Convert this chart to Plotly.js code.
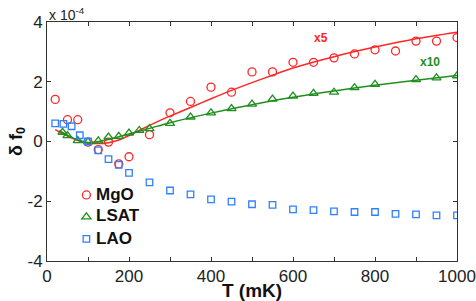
<!DOCTYPE html>
<html>
<head>
<meta charset="utf-8">
<script src="https://cdn.plot.ly/plotly-3.0.1.min.js"></script>
<style>html,body{margin:0;padding:0;background:#fff}#chart{width:476px;height:301px}</style>
</head>
<body>
<div id="chart"></div>
<script>
// Values in units of 1e-4
const mgoT = [20, 50, 75, 100, 125, 150, 175, 200, 250, 300, 350, 400, 450, 500, 550, 600, 650, 700, 750, 800, 850, 900, 950, 1000];
const mgoV = [1.41, 0.73, 0.73, -0.02, -0.27, -0.02, -0.75, -0.51, 0.23, 0.96, 1.34, 1.82, 1.65, 2.33, 2.33, 2.65, 2.65, 2.80, 2.93, 3.07, 3.03, 3.36, 3.36, 3.48];

const lsatT = [38, 50, 75, 100, 125, 150, 175, 200, 225, 250, 300, 350, 400, 450, 500, 550, 600, 650, 700, 750, 800, 900, 950, 1000];
const lsatV = [0.31, 0.20, 0.03, -0.01, 0.02, 0.15, 0.17, 0.28, 0.37, 0.43, 0.61, 0.82, 0.96, 1.10, 1.25, 1.42, 1.52, 1.61, 1.65, 1.80, 1.91, 2.07, 2.13, 2.20];

const laoT = [20, 40, 60, 80, 100, 125, 150, 175, 200, 250, 300, 350, 400, 450, 500, 550, 600, 650, 700, 750, 800, 850, 900, 950, 1000];
const laoV = [0.61, 0.59, 0.51, 0.21, 0.00, -0.30, -0.59, -0.78, -1.05, -1.37, -1.64, -1.77, -1.94, -2.01, -2.10, -2.12, -2.27, -2.30, -2.34, -2.36, -2.36, -2.42, -2.44, -2.47, -2.47];

// fitted curves
const mgoFitT = [20, 50, 75, 100, 125, 150, 175, 200, 225, 250, 275, 300, 350, 400, 450, 500, 550, 600, 700, 800, 900, 1000];
const mgoFitV = [0.40, 0.18, 0.03, -0.05, -0.07, -0.04, 0.05, 0.20, 0.37, 0.54, 0.70, 0.85, 1.14, 1.43, 1.71, 1.97, 2.22, 2.46, 2.84, 3.16, 3.44, 3.66];

const lsatFitT = [30, 50, 75, 100, 125, 150, 200, 250, 300, 400, 500, 600, 700, 800, 900, 1000];
const lsatFitV = [0.36, 0.21, 0.05, -0.03, 0.00, 0.07, 0.25, 0.44, 0.63, 0.95, 1.23, 1.48, 1.69, 1.88, 2.05, 2.21];

const names = ['MgO', 'LSAT', 'LAO'];
const colors = ['#ff2626', '#1f8f1f', '#2f80ff'];

const xTickVals = [0, 200, 400, 600, 800, 1000];
const xTickText = ['0', '200', '400', '600', '800', '1000'];
const yTickVals = [-4, -2, 0, 2, 4];
const yTickText = ['-4', '-2', '0', '2', '4'];

const traces = [
  {x: mgoFitT, y: mgoFitV, mode: 'lines', line: {color: colors[0], width: 1.5, shape: 'spline', smoothing: 0.8}, showlegend: false, hoverinfo: 'skip'},
  {x: lsatFitT, y: lsatFitV, mode: 'lines', line: {color: colors[1], width: 1.5, shape: 'spline', smoothing: 0.8}, showlegend: false, hoverinfo: 'skip'},
  {x: mgoT, y: mgoV, name: ' ', mode: 'markers', marker: {symbol: 'circle-open', size: 8, color: colors[0], line: {width: 1.3, color: colors[0]}}},
  {x: lsatT, y: lsatV, name: ' ', mode: 'markers', marker: {symbol: 'triangle-up-open', size: 8, color: colors[1], line: {width: 1.3, color: colors[1]}}},
  {x: laoT, y: laoV, name: ' ', mode: 'markers', marker: {symbol: 'square-open', size: 6.5, color: colors[2], line: {width: 1.3, color: colors[2]}}}
];

const axisCommon = {
  showgrid: false, zeroline: false, showline: true, mirror: 'ticks',
  linecolor: '#333', linewidth: 1, ticks: 'inside', ticklen: 4, tickcolor: '#333', tickwidth: 1,
  tickfont: {family: 'Liberation Sans, Arial, sans-serif', size: 17, color: '#222'}
};

const legendY = [0.2803, 0.1883, 0.0962];
const legendLabels = names.map((n, i) => ({
  xref: 'paper', yref: 'paper', x: 0.1146, y: legendY[i], xanchor: 'left', yanchor: 'middle',
  showarrow: false, text: '<b>' + n + '</b>',
  font: {family: 'Liberation Sans, Arial, sans-serif', size: 17, color: '#111'}
}));

const layout = {
  width: 476, height: 301,
  margin: {l: 47, r: 19, t: 22, b: 40},
  paper_bgcolor: '#fff', plot_bgcolor: '#fff',
  font: {family: 'Liberation Sans, Arial, sans-serif', color: '#222'},
  xaxis: Object.assign({}, axisCommon, {
    range: [0, 1000], tickmode: 'array', tickvals: xTickVals, ticktext: xTickText,
    minor: {dtick: 100, ticks: 'inside', ticklen: 4, tickcolor: '#333', tickwidth: 1, showgrid: false},
    title: {text: '<b>T (mK)</b>', font: {size: 19, color: '#111'}, standoff: 0}
  }),
  yaxis: Object.assign({}, axisCommon, {
    range: [-4, 4], tickmode: 'array', tickvals: yTickVals, ticktext: yTickText,
    title: {text: '<b>δ f<sub>0</sub></b>', font: {size: 18, color: '#111'}, standoff: 0}
  }),
  legend: {
    x: 0.0473, y: 0.3434, xanchor: 'left', yanchor: 'top',
    bgcolor: 'rgba(0,0,0,0)', borderwidth: 0, itemwidth: 30,
    font: {family: 'Liberation Sans, Arial, sans-serif', size: 14.6, color: '#111'},
    tracegroupgap: 0
  },
  annotations: [
    {xref: 'paper', yref: 'paper', x: 0, y: 1, xanchor: 'left', yanchor: 'bottom', yshift: -3, showarrow: false,
     text: 'x 10<sup>-4</sup>', font: {size: 14, color: '#222'}},
    {x: 668, y: 3.46, showarrow: false, text: '<b>x5</b>', font: {size: 12, color: colors[0]}},
    {x: 934, y: 2.65, showarrow: false, text: '<b>x10</b>', font: {size: 12, color: colors[1]}}
  ].concat(legendLabels)
};

Plotly.newPlot('chart', traces, layout, {displayModeBar: false, staticPlot: true});
</script>
</body>
</html>
